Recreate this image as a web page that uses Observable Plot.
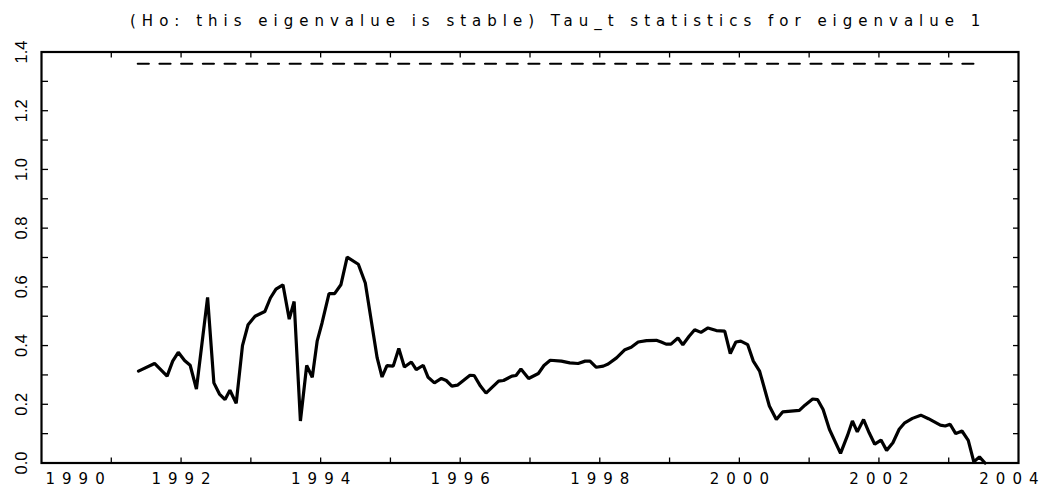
<!DOCTYPE html>
<html><head><meta charset="utf-8">
<script src="https://cdn.jsdelivr.net/npm/d3@7"></script>
<script src="https://cdn.jsdelivr.net/npm/@observablehq/plot@0.6"></script>
<style>
body{margin:0;background:#fff;}
#wrap{position:relative;width:1047px;height:487px;}
#title{position:absolute;left:130px;top:14px;font-family:"DejaVu Sans";font-size:15px;line-height:15px;letter-spacing:6px;white-space:nowrap;color:#000;}
#chart{position:absolute;left:0;top:0;}
</style></head><body>
<div id="wrap"><div id="chart"></div><div id="title">(Ho: this eigenvalue is stable) Tau_t statistics for eigenvalue 1</div></div>
<script>
const dates = [1991.39,1991.62,1991.80,1991.88,1991.96,1992.05,1992.13,1992.22,1992.38,1992.47,1992.55,1992.63,1992.70,1992.79,1992.88,1992.96,1993.06,1993.20,1993.28,1993.36,1993.46,1993.55,1993.62,1993.71,1993.80,1993.88,1993.95,1994.02,1994.12,1994.20,1994.29,1994.38,1994.54,1994.64,1994.81,1994.88,1994.95,1995.04,1995.12,1995.20,1995.30,1995.37,1995.47,1995.54,1995.63,1995.73,1995.80,1995.88,1995.96,1996.14,1996.20,1996.29,1996.37,1996.55,1996.62,1996.74,1996.80,1996.87,1996.98,1997.12,1997.20,1997.29,1997.45,1997.57,1997.69,1997.79,1997.86,1997.95,1998.05,1998.12,1998.24,1998.36,1998.45,1998.55,1998.67,1998.81,1998.88,1998.95,1999.02,1999.12,1999.19,1999.28,1999.36,1999.45,1999.55,1999.67,1999.79,1999.87,1999.95,2000.02,2000.12,2000.20,2000.29,2000.43,2000.53,2000.62,2000.86,2000.94,2001.05,2001.12,2001.20,2001.29,2001.45,2001.55,2001.62,2001.69,2001.78,2001.86,2001.94,2002.03,2002.11,2002.20,2002.29,2002.37,2002.48,2002.60,2002.71,2002.88,2002.95,2003.02,2003.10,2003.19,2003.28,2003.36,2003.44,2003.52];
const values = [0.313,0.339,0.296,0.347,0.377,0.349,0.333,0.252,0.564,0.273,0.235,0.216,0.248,0.203,0.400,0.471,0.500,0.516,0.562,0.592,0.607,0.490,0.550,0.143,0.332,0.292,0.415,0.477,0.577,0.577,0.607,0.701,0.677,0.613,0.358,0.293,0.332,0.330,0.390,0.327,0.344,0.318,0.333,0.292,0.273,0.288,0.281,0.262,0.265,0.299,0.298,0.262,0.238,0.279,0.281,0.296,0.298,0.320,0.288,0.305,0.332,0.350,0.347,0.341,0.339,0.347,0.347,0.326,0.330,0.337,0.358,0.386,0.394,0.412,0.417,0.418,0.412,0.405,0.405,0.426,0.403,0.432,0.454,0.445,0.460,0.451,0.449,0.373,0.412,0.415,0.403,0.347,0.313,0.194,0.148,0.174,0.179,0.197,0.218,0.216,0.182,0.115,0.033,0.094,0.143,0.106,0.148,0.103,0.064,0.078,0.043,0.069,0.115,0.137,0.152,0.163,0.151,0.129,0.126,0.132,0.100,0.109,0.077,0.004,0.021,0.000];
const critDates = [1991.38, 2003.45];
const critValues = [1.36, 1.36];
const xMajorTicks = [1990,1992,1994,1996,1998,2000,2002,2004];
const xTickLabels = ["1990","1992","1994","1996","1998","2000","2002","2004"];
const yMajorTicks = [0,0.2,0.4,0.6,0.8,1.0,1.2,1.4];
const yTickLabels = ["0.0","0.2","0.4","0.6","0.8","1.0","1.2","1.4"];
const xMinorTicks = d3.range(1991, 2004);
const yMinorTicks = d3.range(1, 14).map(i => i / 10);

const series = dates.map((d, i) => ({date: d, value: values[i]}));
const crit = critDates.map((d, i) => ({date: d, value: critValues[i]}));
const xLab = xMajorTicks.map((d, i) => ({x: d, label: xTickLabels[i]}));
const yLab = yMajorTicks.map((d, i) => ({y: d, label: yTickLabels[i]}));
const nX = xLab.length;

const chart = Plot.plot({
  width: 1047, height: 487,
  marginLeft: 41, marginRight: 29, marginTop: 51.5, marginBottom: 24.5,
  style: {fontFamily: "DejaVu Sans", fontSize: "15px", color: "#000", background: "#fff"},
  x: {domain: [1990, 2004]},
  y: {domain: [0, 1.4]},
  marks: [
    Plot.line(crit, {x: "date", y: "value", stroke: "#000", strokeWidth: 2.2, strokeDasharray: "11,10.7"}),
    Plot.line(series, {x: "date", y: "value", stroke: "#000", strokeWidth: 3.2, strokeLinejoin: "miter"}),
    Plot.axisX({anchor: "bottom", ticks: xMinorTicks, tickSize: -5, tickFormat: () => "", strokeWidth: 1.3}),
    Plot.axisX({anchor: "top", ticks: xMinorTicks, tickSize: -5, tickFormat: () => "", strokeWidth: 1.3}),
    Plot.axisY({anchor: "left", ticks: yMinorTicks, tickSize: -7, tickFormat: () => "", strokeWidth: 1.3}),
    Plot.axisY({anchor: "right", ticks: yMinorTicks, tickSize: -6, tickFormat: () => "", strokeWidth: 1.3}),
    Plot.text(xLab.slice(1, nX - 1), {x: "x", text: "label", frameAnchor: "bottom", dy: 16, dx: 3.5, lineAnchor: "middle", textAnchor: "middle", fontSize: 15, fontFamily: "DejaVu Sans", fill: "#000"}),
    Plot.text(xLab.slice(0, 1), {x: "x", text: "label", frameAnchor: "bottom", dy: 16, dx: 4, lineAnchor: "middle", textAnchor: "start", fontSize: 15, fontFamily: "DejaVu Sans", fill: "#000"}),
    Plot.text(xLab.slice(nX - 1), {x: "x", text: "label", frameAnchor: "bottom", dy: 16, dx: 27, lineAnchor: "middle", textAnchor: "end", fontSize: 15, fontFamily: "DejaVu Sans", fill: "#000"}),
    Plot.text(yLab, {y: "y", text: "label", frameAnchor: "left", dx: -20, dy: 0, rotate: -90, lineAnchor: "middle", textAnchor: "middle", fontSize: 16.5, fontFamily: "Liberation Sans", fill: "#000"}),
    Plot.frame({stroke: "#000", strokeWidth: 2.2})
  ]
});
// widen the x tick labels like the reference's spaced-out lettering
const textGroups = chart.querySelectorAll('g[aria-label="text"]');
for (let i = 0; i < Math.min(3, textGroups.length); i++) textGroups[i].style.letterSpacing = "7px";
document.getElementById("chart").appendChild(chart);
</script>
</body></html>
